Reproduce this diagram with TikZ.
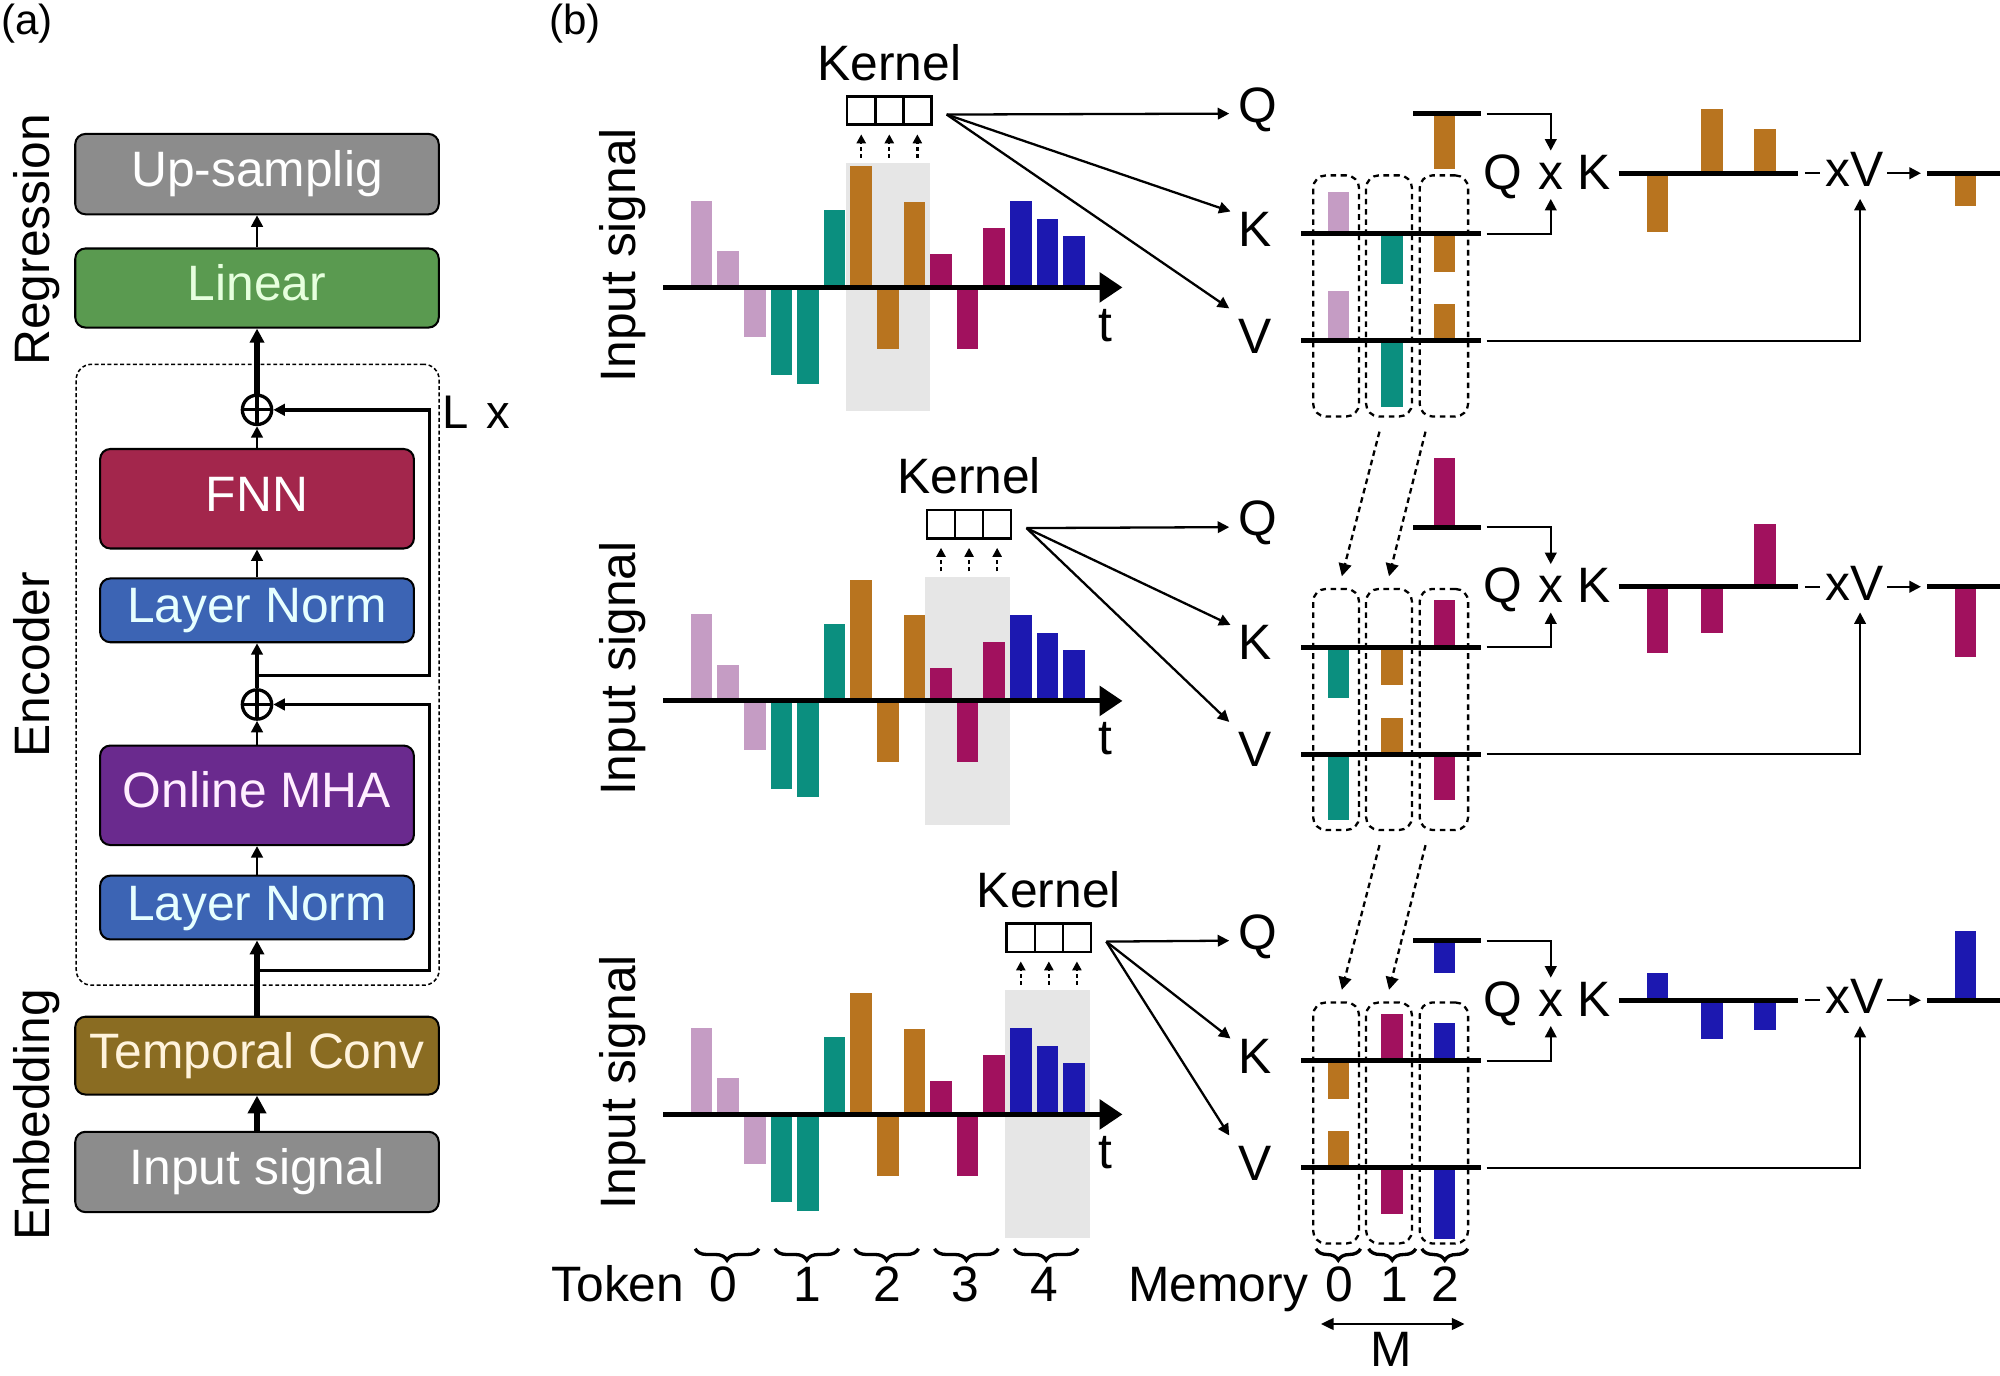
\documentclass[tikz,border=0pt]{standalone}
\usepackage{fontspec}
\setmainfont{Liberation Sans}
\usetikzlibrary{arrows.meta,calc,decorations.pathreplacing}
\definecolor{boxgray}{HTML}{8C8C8C}
\definecolor{lingreen}{HTML}{5A9A50}
\definecolor{fnnred}{HTML}{A3264C}
\definecolor{lnblue}{HTML}{3C64B4}
\definecolor{mhapurple}{HTML}{6A2A8E}
\definecolor{tcbrown}{HTML}{8A6C22}
\definecolor{tGreen}{HTML}{E6FFDE}
\definecolor{tBlue}{HTML}{E6FFFF}
\definecolor{tPink}{HTML}{FFEEFF}
\definecolor{tCream}{HTML}{FFF3DC}
\definecolor{cLav}{HTML}{C59CC4}
\definecolor{cTeal}{HTML}{0B8F7F}
\definecolor{cOrng}{HTML}{B8741F}
\definecolor{cMag}{HTML}{A1115E}
\definecolor{cBlu}{HTML}{1C18B0}
\definecolor{kshade}{HTML}{E6E6E6}
\begin{document}
\begin{tikzpicture}[x=0.5pt,y=-0.5pt,
  every node/.style={inner sep=0pt},
  lab/.style={font=\fontsize{19.5}{23}\selectfont},
  blk/.style={draw=black,line width=0.8pt,rounded corners=4pt,font=\fontsize{19.5}{23}\selectfont,text height=14pt,text depth=4.1pt},
  bigblk/.style={blk,minimum width=142.5pt,minimum height=31.5pt},
  smlblk/.style={blk,minimum width=123pt,minimum height=25pt},
  oplus/.style={circle,draw,line width=1.3pt,minimum size=11.5pt,path picture={\draw[line width=1.3pt] (path picture bounding box.north)--(path picture bounding box.south) (path picture bounding box.west)--(path picture bounding box.east);}},
  hd/.style={-{Triangle[length=4.5pt,width=4.5pt]}},
  bighd/.style={-{Triangle[length=5.5pt,width=5.5pt]}},
  arr/.style={line width=1.1pt,hd},
  mainln/.style={line width=2pt},
  resln/.style={line width=1.4pt},
  thinarr/.style={line width=0.9pt,-{Triangle[length=4.5pt,width=4.5pt]}},
  thinln/.style={line width=0.9pt},
  thickln/.style={line width=2pt},
  dasharr/.style={line width=0.9pt,dash pattern=on 2.2pt off 1.6pt,-{Triangle[length=5pt,width=5pt]}},
  kdash/.style={line width=0.9pt,dash pattern=on 1.6pt off 1.2pt,-{Triangle[length=3.5pt,width=3.5pt]}},
  memcol/.style={draw,line width=0.9pt,dash pattern=on 2.2pt off 1.8pt,rounded corners=5pt,minimum width=18pt,minimum height=94.5pt},
  kcell/.style={draw,line width=1pt,minimum width=11pt,minimum height=11pt},
  brc/.style={decorate,decoration={brace,mirror,amplitude=4.5pt},line width=1.3pt}
]
\useasboundingbox (0,0) rectangle (1568,1078);

% ---------------- panel (a)
\node[font=\fontsize{16.5}{20}\selectfont,anchor=base] (la) at (21,27) {(a)};
\node[font=\fontsize{16.5}{20}\selectfont,anchor=base] (lb) at (451,27) {(b)};
\node[lab,rotate=90,anchor=base] (sreg) at (39,188) {Regression};
\node[lab,rotate=90,anchor=base] (senc) at (39,521) {Encoder};
\node[lab,rotate=90,anchor=base] (semb) at (39,874) {Embedding};

\node[draw,line width=0.6pt,dash pattern=on 1.5pt off 1pt,rounded corners=6pt,minimum width=142.25pt,minimum height=243.4pt] (enc) at (202,529) {};
\node[bigblk,fill=boxgray,text=white] (up) at (201.5,136.5) {Up-samplig};
\node[bigblk,fill=lingreen,text=tGreen,minimum height=31pt] (lin) at (201.5,225.8) {Linear};
\node[smlblk,fill=fnnred,text=white,minimum height=39pt] (fnn) at (201.5,391) {FNN};
\node[smlblk,fill=lnblue,text=tBlue] (ln1) at (201.5,478.5) {Layer Norm};
\node[smlblk,fill=mhapurple,text=tPink,minimum height=39pt] (mha) at (201.5,623.5) {Online MHA};
\node[smlblk,fill=lnblue,text=tBlue] (ln2) at (201.5,711.5) {Layer Norm};
\node[bigblk,fill=tcbrown,text=tCream,minimum height=30.5pt] (tc) at (201.5,827.6) {Temporal Conv};
\node[bigblk,fill=boxgray,text=white] (inp) at (201.5,918.8) {Input signal};
\node[oplus] (p1) at (201.5,321.3) {};
\node[oplus] (p2) at (201.5,552.3) {};
\node[font=\fontsize{18.5}{22}\selectfont,anchor=base west] (lx) at (346.3,335.6) {L\hspace{0.38em}x};

\draw[mainln,-{Triangle[length=7pt,width=7pt]}] (inp.north) -- (tc.south);
\draw[mainln,bighd] (tc.north) -- (ln2.south);
\coordinate (b2) at (201.5,760.7);
\coordinate (r2) at (336.6,552.3);
\draw[resln,hd] (b2) -| (r2) -- (p2.east);
\draw[arr] (ln2.north) -- (mha.south);
\draw[arr] (mha.north) -- (p2.south);
\draw[resln,hd] (p2.north) -- (ln1.south);
\coordinate (b1) at (201.5,529.5);
\coordinate (r1) at (336.6,321.3);
\draw[resln,hd] (b1) -| (r1) -- (p1.east);
\draw[arr] (ln1.north) -- (fnn.south);
\draw[arr] (fnn.north) -- (p1.south);
\draw[mainln,bighd] (p1.north) -- (lin.south);
\draw[arr] (lin.north) -- (up.south);

% ---------------- panel (b)
\foreach \r/\qc/\qh/\ca/\cb/\cc/\kA/\kB/\kC/\vA/\vB/\vC/\sa/\sb/\sc/\oh in {
 0/cOrng/-43.2/cLav/cTeal/cOrng/32.7/-39.7/-29.7/38.7/-51.8/28.6/-45.8/50.1/34.4/-26,
 1/cMag/54.4/cTeal/cOrng/cMag/-39.7/-29.7/36.8/-51.8/28.6/-36/-52.3/-36.6/49.1/-55.4,
 2/cBlu/-25.1/cOrng/cMag/cBlu/-29.7/36.8/29.8/28.6/-36/-55.5/21.4/-30.6/-23.5/54.3}{
 \pgfmathsetmacro\dy{324.2*\r}
 \pgfmathsetmacro\dx{62.55*\r}
 \fill[kshade] ({663+\dx},{128+\dy}) rectangle ({729.5+\dx},{322.5+\dy});
 \foreach \i/\h/\c in {0/68/cLav,1/28.5/cLav,2/-38.7/cLav,3/-69/cTeal,4/-75.5/cTeal,5/60.5/cTeal,6/95/cOrng,7/-48/cOrng,8/67/cOrng,9/26/cMag,10/-48/cMag,11/46.5/cMag,12/67.5/cBlu,13/53.5/cBlu,14/40/cBlu}{
   \fill[\c] ({541.6+20.85*\i},{225.3+\dy}) rectangle ++(16.9,{-(\h)});
 }
 \coordinate (axs\r) at (520,{225.3+\dy});
 \coordinate (axe\r) at (880,{225.3+\dy});
 \draw[line width=2pt,-{Triangle[length=9pt,width=11.5pt]}] (axs\r) -- (axe\r);
 \node[lab,anchor=base] (t\r) at (867,{267.4+\dy}) {t};
 \node[lab,rotate=90,anchor=base] (is\r) at (498,{200+\dy}) {Input signal};
 \node[kcell] (kA\r) at ({675.2+\dx},{86.8+\dy}) {};
 \node[kcell] (kB\r) at ({697.2+\dx},{86.8+\dy}) {};
 \node[kcell] (kC\r) at ({719.2+\dx},{86.8+\dy}) {};
 \node[lab,anchor=base] (kt\r) at ({697.2+\dx},{62.8+\dy}) {Kernel};
 \foreach \k in {A,B,C}{
   \draw[kdash] ($(k\k\r.south)+(0,25)$) -- ($(k\k\r.south)+(0,6.5)$);
 }
 \node[lab,anchor=base west] (lq\r) at (970.7,{96+\dy}) {Q};
 \node[lab,anchor=base west] (lk\r) at (970.7,{193+\dy}) {K};
 \node[lab,anchor=base west] (lv\r) at (970.7,{277+\dy}) {V};
 \coordinate (ks\r) at ($(kC\r.east)+(11,3)$);
 \draw[thinarr] (ks\r) -- ($(lq\r.west)+(-7,3)$);
 \draw[thinarr] (ks\r) -- ($(lk\r.north west)+(-6,0)$);
 \draw[thinarr] (ks\r) -- ($(lv\r.north west)+(-7,-8)$);
 % memory
 \node[memcol] (mA\r) at (1047.5,{232+\dy}) {};
 \node[memcol] (mB\r) at (1089,{232+\dy}) {};
 \node[memcol,minimum width=19pt] (mC\r) at (1132,{232+\dy}) {};
 \fill[\qc] (1124.1,{89.2+\dy}) rectangle ++(16.8,{-(\qh)});
 \fill[\ca] (1041.1,{183.2+\dy}) rectangle ++(16.8,{-(\kA)});
 \fill[\cb] (1082.8,{183.2+\dy}) rectangle ++(16.8,{-(\kB)});
 \fill[\cc] (1124.1,{183.2+\dy}) rectangle ++(16.8,{-(\kC)});
 \fill[\ca] (1041.1,{267.1+\dy}) rectangle ++(16.8,{-(\vA)});
 \fill[\cb] (1082.8,{267.1+\dy}) rectangle ++(16.8,{-(\vB)});
 \fill[\cc] (1124.1,{267.1+\dy}) rectangle ++(16.8,{-(\vC)});
 \coordinate (qll\r) at (1108,{89.2+\dy});
 \coordinate (qlr\r) at (1161,{89.2+\dy});
 \coordinate (kll\r) at (1020,{183.2+\dy});
 \coordinate (klr\r) at (1161,{183.2+\dy});
 \coordinate (vll\r) at (1020,{267.1+\dy});
 \coordinate (vlr\r) at (1161,{267.1+\dy});
 \draw[thickln] (qll\r) -- (qlr\r);
 \draw[thickln] (kll\r) -- (klr\r);
 \draw[thickln] (vll\r) -- (vlr\r);
 % Q x K
 \node[lab,anchor=base] (qq\r) at (1178.5,{148.5+\dy}) {Q};
 \node[lab,anchor=base] (mul\r) at (1215.8,{148.5+\dy}) {x};
 \node[lab,anchor=base] (kk\r) at (1250,{148.5+\dy}) {K};
 \draw[thinarr] ($(qlr\r)+(4.5,0)$) -| ($(mul\r.north)+(0,-9.4)$);
 \draw[thinarr] ($(klr\r)+(4.5,0)$) -| ($(mul\r.south)+(0,7)$);
 % scores
 \coordinate (sl\r) at (1269,{135.8+\dy});
 \coordinate (sr\r) at (1410,{135.8+\dy});
 \fill[\cc] (1291,{135.8+\dy}) rectangle ++(17,{-(\sa)});
 \fill[\cc] (1333.6,{135.8+\dy}) rectangle ++(17,{-(\sb)});
 \fill[\cc] (1375,{135.8+\dy}) rectangle ++(17,{-(\sc)});
 \draw[thickln] (sl\r) -- (sr\r);
 \node[lab,anchor=base] (xv\r) at (1454.3,{146.3+\dy}) {xV};
 \draw[thinln] ($(sr\r)+(5,0)$) -- ($(sr\r -| xv\r.west)+(-4,0)$);
 \coordinate (ol\r) at (1511,{135.8+\dy});
 \coordinate (or\r) at (1568,{135.8+\dy});
 \draw[thinarr] ($(sr\r -| xv\r.east)+(2,0)$) -- ($(ol\r)+(-5,0)$);
 \fill[\cc] (1532.8,{135.8+\dy}) rectangle ++(16.5,{-(\oh)});
 \draw[thickln] (ol\r) -- (or\r);
 \draw[thinarr] ($(vlr\r)+(4.5,0)$) -| ($(xv\r.south)+(4,9.2)$);
}
\foreach \r/\n in {0/1,1/2}{
 \draw[dasharr] ($(mB\r.south)+(-7.5,11)$) -- ($(mA\n.north)+(4.5,-9)$);
 \draw[dasharr] ($(mC\r.south)+(-14.4,11)$) -- ($(mB\n.north)+(0,-9)$);
}

% bottom labels
\node[lab,anchor=base] (tok) at (484.4,1020.5) {Token};
\foreach \k/\xx in {0/567.4,1/633,2/695.5,3/757,4/819}{
 \node[lab,anchor=base] (tn\k) at (\xx,1020.5) {\k};
 \draw[brc] ({545+62.55*\k},979) -- ({595+62.55*\k},979);
}
\node[lab,anchor=base] (mem) at (955,1020.5) {Memory};
\foreach \k/\xx/\xa/\xb in {0/1050/1031.7/1066.7,1/1093/1073/1110,2/1133/1114.7/1150.7}{
 \node[lab,anchor=base] (mn\k) at (\xx,1020.5) {\k};
 \draw[brc] (\xa,979) -- (\xb,979);
}
\coordinate (ma) at (1035.5,1038);
\coordinate (mb) at (1148.3,1038);
\draw[line width=1pt,{Triangle[length=5pt,width=4.5pt]}-{Triangle[length=5pt,width=4.5pt]}] (ma) -- (mb);
\node[lab,anchor=base] (mlab) at (1091,1071.5) {M};
\end{tikzpicture}
\end{document}
